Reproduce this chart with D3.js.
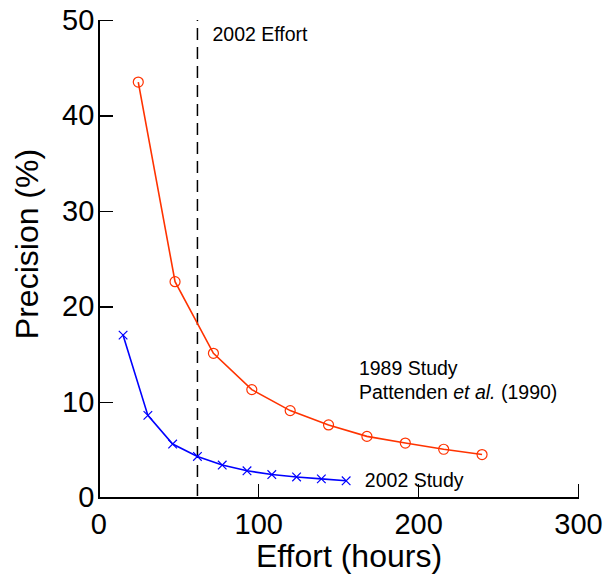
<!DOCTYPE html>
<meta charset="utf-8">
<style>
body { margin: 0; background: #fff; }
svg { font-family: Arial, "Liberation Sans", sans-serif; }
.axis path, .axis line { stroke: #000; stroke-width: 1.5px; shape-rendering: crispEdges; }
.axis text { font-size: 29px; fill: #000; }
.title { font-size: 32px; }
.note { font-size: 19.5px; }
</style>
<body>
<script src="https://d3js.org/d3.v7.min.js"></script>
<script>

// data
var effort1989 = [25, 48, 72, 96, 120, 144, 168, 192, 216, 240];
var precision1989 = [43.5, 22.6, 15.1, 11.3, 9.1, 7.6, 6.4, 5.7, 5.05, 4.5];
var effort2002 = [15.5, 31, 46.5, 62, 77.5, 93, 108.5, 124, 139.5, 155];
var precision2002 = [17.0, 8.6, 5.6, 4.3, 3.4, 2.8, 2.4, 2.15, 1.95, 1.75];
var effortMarker = 62;
var xTicks = [0, 100, 200, 300];
var yTicks = [0, 10, 20, 30, 40, 50];

var width = 608, height = 577;

var svg = d3.select("body").append("svg")
    .attr("width", width)
    .attr("height", height);

var x = d3.scaleLinear().domain([0, 300]).range([98.3, 578]);
var y = d3.scaleLinear().domain([0, 50]).range([497.5, 20]);

// axes, ticks point inward
svg.append("g")
    .attr("class", "axis")
    .attr("transform", "translate(0," + y(0) + ")")
    .call(d3.axisBottom(x).tickValues(xTicks).tickSizeInner(-14).tickSizeOuter(0).tickPadding(16));

svg.append("g")
    .attr("class", "axis")
    .attr("transform", "translate(" + x(0) + ",0)")
    .call(d3.axisLeft(y).tickValues(yTicks).tickSizeInner(-15).tickSizeOuter(0).tickPadding(4));

svg.selectAll(".axis").attr("font-family", null).attr("font-size", null);

// dashed line for 2002 effort
svg.append("line")
    .attr("x1", x(effortMarker)).attr("x2", x(effortMarker))
    .attr("y1", y(50)).attr("y2", y(0))
    .attr("stroke", "#000")
    .attr("stroke-width", 1.5)
    .attr("stroke-dasharray", "12,7")
    .attr("stroke-dashoffset", 11);

var line = d3.line()
    .x(function(d) { return x(d[0]); })
    .y(function(d) { return y(d[1]); });

var red = "#ff3300", blue = "#0000ff";
var d1989 = d3.zip(effort1989, precision1989);
var d2002 = d3.zip(effort2002, precision2002);

svg.append("path").datum(d1989)
    .attr("d", line).attr("fill", "none")
    .attr("stroke", red).attr("stroke-width", 1.6);

svg.selectAll(".circ").data(d1989).enter().append("circle")
    .attr("cx", function(d) { return x(d[0]); })
    .attr("cy", function(d) { return y(d[1]); })
    .attr("r", 5)
    .attr("fill", "none").attr("stroke", red).attr("stroke-width", 1.2);

svg.append("path").datum(d2002)
    .attr("d", line).attr("fill", "none")
    .attr("stroke", blue).attr("stroke-width", 1.6);

var s = 4.3;
svg.selectAll(".cross").data(d2002).enter().append("path")
    .attr("d", function(d) {
        var cx = x(d[0]), cy = y(d[1]);
        return "M" + (cx - s) + "," + (cy - s) + "L" + (cx + s) + "," + (cy + s) +
               "M" + (cx - s) + "," + (cy + s) + "L" + (cx + s) + "," + (cy - s);
    })
    .attr("stroke", blue).attr("stroke-width", 1.2);

// axis titles
svg.append("text")
    .attr("class", "title")
    .attr("x", 349).attr("y", 567)
    .attr("text-anchor", "middle")
    .text("Effort (hours)");

svg.append("text")
    .attr("class", "title")
    .attr("transform", "translate(38,244) rotate(-90)")
    .attr("text-anchor", "middle")
    .text("Precision (%)");

// annotations
svg.append("text").attr("class", "note")
    .attr("x", x(effortMarker) + 15).attr("y", y(50) + 21)
    .text("2002 Effort");

svg.append("text").attr("class", "note")
    .attr("x", x(163)).attr("y", y(12.8))
    .text("1989 Study");

var pt = svg.append("text").attr("class", "note")
    .attr("x", x(163)).attr("y", y(10.3));
pt.append("tspan").text("Pattenden ");
pt.append("tspan").attr("font-style", "italic").text("et al.");
pt.append("tspan").text(" (1990)");

svg.append("text").attr("class", "note")
    .attr("x", x(166.7)).attr("y", y(1.15))
    .text("2002 Study");

</script>
</body>
